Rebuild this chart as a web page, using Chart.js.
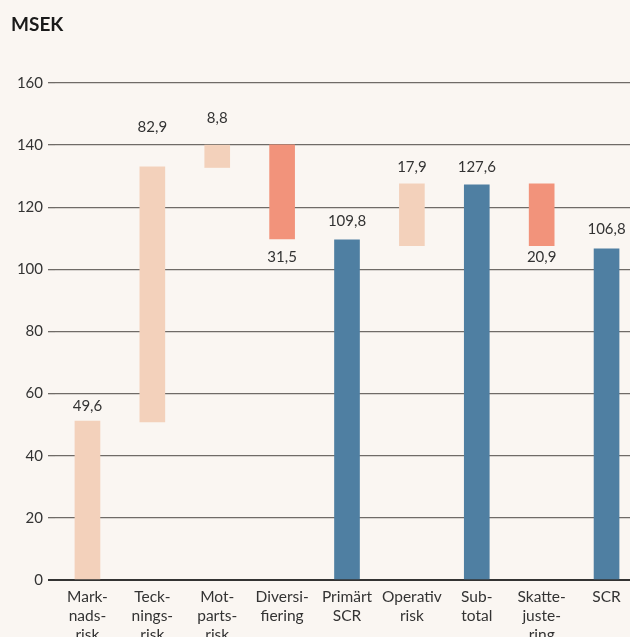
<!DOCTYPE html>
<html>
<head>
<meta charset="utf-8">
<script src="https://cdn.jsdelivr.net/npm/chart.js@4"></script>
<style>
  html, body { margin: 0; padding: 0; background: #faf6f2; overflow: hidden; }
  #wrap { width: 640px; height: 637px; }
</style>
</head>
<body>
<div id="wrap"><canvas id="myChart" width="640" height="637"></canvas></div>
<script>
const categories = [
  ['Mark-', 'nads-', 'risk'],
  ['Teck-', 'nings-', 'risk'],
  ['Mot-', 'parts-', 'risk'],
  ['Diversi-', 'fiering'],
  ['Primärt', 'SCR'],
  ['Operativ', 'risk'],
  ['Sub-', 'total'],
  ['Skatte-', 'juste-', 'ring'],
  ['SCR']
];
// where each bar starts and ends, as drawn in the picture
const barStart = [0, 50.9, 132.8, 109.8, 0, 107.6, 0, 107.6, 0];
const barEnd = [51.2, 133.0, 140.0, 140.1, 109.5, 127.5, 127.2, 127.5, 106.6];
const valueLabels = ['49,6', '82,9', '8,8', '31,5', '109,8', '17,9', '127,6', '20,9', '106,8'];
const barKind = ['up', 'up', 'up', 'down', 'total', 'up', 'total', 'down', 'total'];
const yTicks = [0, 20, 40, 60, 80, 100, 120, 140, 160];

const kindColor = { up: '#f3d1bb', down: '#f2937b', total: '#4f7fa2' };
// pixel nudge of each value label from the bar edge
const labelNudge = [-15, -40, -27, 18, -19, -17, -18, 11, -20];

const fontFamily = 'Lato, "Open Sans", sans-serif';

const valueLabelPlugin = {
  id: 'valueLabels',
  afterDatasetsDraw(chart) {
    const ctx = chart.ctx;
    const meta = chart.getDatasetMeta(0);
    const y = chart.scales.y;
    ctx.save();
    ctx.font = '15px ' + fontFamily;
    ctx.fillStyle = '#333';
    ctx.textAlign = 'center';
    ctx.textBaseline = 'middle';
    meta.data.forEach((bar, i) => {
      const edge = barKind[i] === 'down' ? y.getPixelForValue(barStart[i]) : y.getPixelForValue(barEnd[i]);
      ctx.fillText(valueLabels[i], bar.x, edge + labelNudge[i]);
    });
    ctx.restore();
  }
};

const titlePlugin = {
  id: 'unitTitle',
  afterDraw(chart) {
    const ctx = chart.ctx;
    ctx.save();
    ctx.font = 'bold 19px ' + fontFamily;
    ctx.fillStyle = '#1a1a1a';
    ctx.textAlign = 'left';
    ctx.textBaseline = 'middle';
    ctx.fillText('MSEK', 11, 25);
    ctx.restore();
  }
};

new Chart(document.getElementById('myChart'), {
  type: 'bar',
  data: {
    labels: categories,
    datasets: [{
      data: barStart.map((s, i) => [s, barEnd[i]]),
      backgroundColor: barKind.map(k => kindColor[k]),
      borderWidth: 0,
      borderSkipped: false,
      barThickness: 25
    }]
  },
  options: {
    responsive: false,
    animation: false,
    layout: { padding: { top: 83, right: 1, left: 0, bottom: 0 } },
    plugins: {
      legend: { display: false },
      tooltip: { enabled: false }
    },
    scales: {
      x: {
        offset: true,
        grid: { display: false },
        border: { display: false },
        ticks: {
          color: '#333',
          font: { family: fontFamily, size: 15.5, lineHeight: 1.2 },
          padding: 0,
          maxRotation: 0,
          autoSkip: false
        },
        afterFit(scale) { scale.height = 57; }
      },
      y: {
        min: 0,
        max: 160,
        afterBuildTicks(scale) { scale.ticks = yTicks.map(v => ({ value: v })); },
        grid: {
          color: ctx => ctx.tick && ctx.tick.value === 0 ? '#333' : '#6f6b67',
          lineWidth: ctx => ctx.tick && ctx.tick.value === 0 ? 2 : 1.3,
          tickLength: 7,
          drawTicks: true
        },
        border: { display: false },
        ticks: {
          color: '#333',
          font: { family: fontFamily, size: 15 },
          padding: 5
        },
        afterFit(scale) { scale.width = 55; }
      }
    }
  },
  plugins: [valueLabelPlugin, titlePlugin]
});
</script>
</body>
</html>
